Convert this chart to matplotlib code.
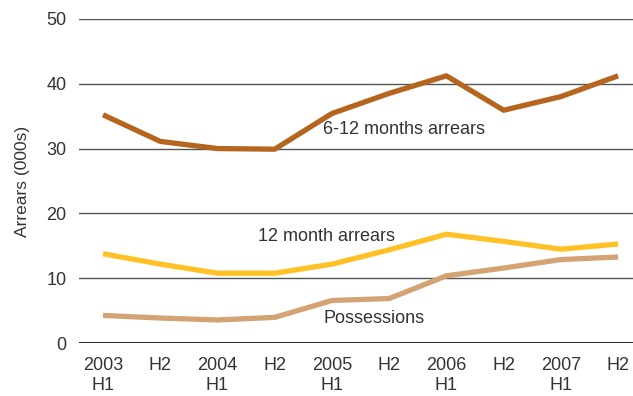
import matplotlib.pyplot as plt

periods = ['2003\nH1', 'H2', '2004\nH1', 'H2', '2005\nH1', 'H2', '2006\nH1', 'H2', '2007\nH1', 'H2']
arrears_6_12 = [35.2, 31.1, 30.0, 29.9, 35.4, 38.5, 41.2, 35.9, 38.0, 41.2]
arrears_12 = [13.8, 12.2, 10.8, 10.8, 12.2, 14.4, 16.8, 15.7, 14.5, 15.3]
possessions = [4.3, 3.9, 3.6, 4.0, 6.6, 6.9, 10.4, 11.6, 12.9, 13.3]

plt.rcParams['font.family'] = ['Liberation Sans', 'DejaVu Sans']

fig = plt.figure(figsize=(6.33, 3.96), dpi=100)
ax = fig.add_axes([0.1248, 0.133, 0.8752, 0.8198])

x = list(range(len(periods)))
for yv in [10, 20, 30, 40, 50]:
    ax.axhline(yv, color='#555555', lw=1, zorder=1)
ax.axhline(0, color='black', lw=1.2, zorder=1)

ax.plot(x, arrears_6_12, color='#B5651D', lw=3.8, solid_capstyle='butt', zorder=3)
ax.plot(x, arrears_12, color='#FFC125', lw=3.8, solid_capstyle='butt', zorder=3)
ax.plot(x, possessions, color='#D4A373', lw=3.8, solid_capstyle='butt', zorder=3)

txt = dict(fontsize=13, color='#333333', va='center', ha='left')
ax.text(3.85, 32.9, '6-12 months arrears', **txt)
ax.text(2.71, 16.5, '12 month arrears', **txt)
ax.text(3.85, 3.9, 'Possessions', **txt)

ax.set_xlim(-0.42, 9.26)
ax.set_ylim(0, 50)
ax.set_xticks(x)
ax.set_xticklabels(periods, fontsize=13, color='#333333', linespacing=1.2)
ax.set_yticks([0, 10, 20, 30, 40, 50])
ax.tick_params(axis='both', length=0, labelsize=13, labelcolor='#333333')
ax.tick_params(axis='x', pad=10)
ax.tick_params(axis='y', pad=9)
ax.set_ylabel('Arrears (000s)', fontsize=12.5, color='#333333', labelpad=12)
for s in ax.spines.values():
    s.set_visible(False)

fig.savefig('out.png', dpi=100)
